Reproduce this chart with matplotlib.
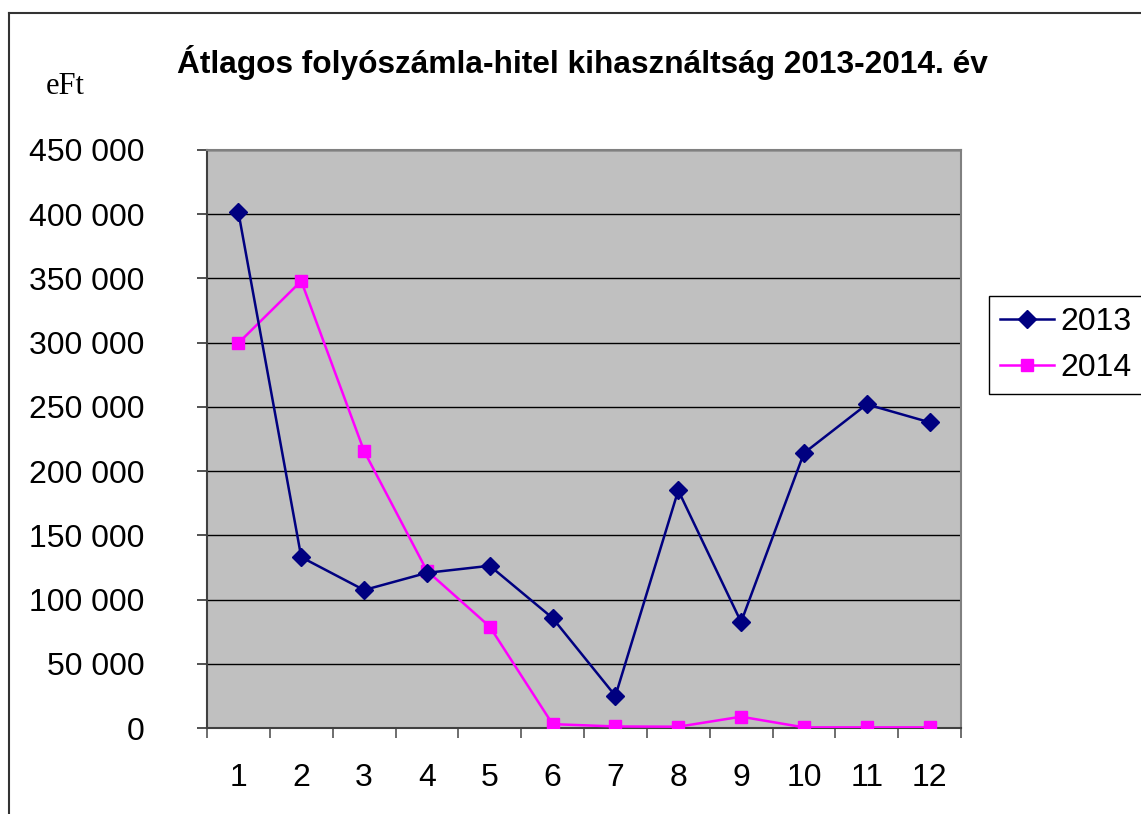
import numpy as np
import matplotlib
matplotlib.use("Agg")
import matplotlib.pyplot as plt
from matplotlib.lines import Line2D
from matplotlib.ticker import FixedLocator, FuncFormatter

plt.rcParams['font.family'] = ['Liberation Sans', 'DejaVu Sans']

# data
months = list(range(1, 13))
vals_2013 = [401500, 133000, 107400, 120800, 126300, 85600, 25000, 185000, 82500, 214000, 252000, 238000]
vals_2014 = [299700, 348000, 215600, 122400, 78900, 3000, 1200, 1000, 8800, 500, 500, 500]
yticks = list(range(0, 450001, 50000))
title = "Átlagos folyószámla-hitel kihasználtság 2013-2014. év"
unit = "eFt"

W, H = 1141, 814
fig = plt.figure(figsize=(W / 100, H / 100), dpi=100)
ax = fig.add_axes([207 / W, 1 - 728 / H, (961 - 207) / W, (728 - 150) / H])
ax.set_facecolor('#C0C0C0')

# outer chart border (only left and top visible)
fig.add_artist(Line2D([9 / W, 9 / W], [1 - 13 / H, 0], transform=fig.transFigure, color='#333333', lw=1.5))
fig.add_artist(Line2D([9 / W, 1], [1 - 13 / H, 1 - 13 / H], transform=fig.transFigure, color='#333333', lw=1.5))

ax.plot(months, vals_2013, color='#000080', marker='D', ms=9, lw=1.8, label='2013', zorder=4)
ax.plot(months, vals_2014, color='#FF00FF', marker='s', ms=8.5, lw=1.8, label='2014', zorder=3)

ax.set_xlim(0.5, 12.5)
ax.set_ylim(0, 450000)

ax.yaxis.set_major_locator(FixedLocator(yticks))
ax.yaxis.set_major_formatter(FuncFormatter(lambda v, p: f"{int(v):,}".replace(',', ' ')))
ax.grid(axis='y', color='black', lw=1, zorder=1)
ax.set_axisbelow(True)

ax.set_xticks(months)
ax.set_xticks(np.arange(0.5, 12.6, 1), minor=True)
ax.tick_params(axis='x', which='major', length=0, pad=25, labelsize=23)
ax.tick_params(axis='x', which='minor', length=7, width=1.2, color='#555555', direction='out')
ax.tick_params(axis='y', length=7, width=1.2, color='#333333', pad=38, labelsize=23, direction='out')

for s in ['top', 'right']:
    ax.spines[s].set_color('#808080')
    ax.spines[s].set_linewidth(1.5)
ax.spines['left'].set_color('#404040')
ax.spines['left'].set_linewidth(1.5)
ax.spines['bottom'].set_color('#404040')
ax.spines['bottom'].set_linewidth(1.5)

fig.text(582 / W, 1 - 62 / H, title, ha='center', va='center', fontsize=22.8, fontweight='bold')
fig.text(65 / W, 1 - 87 / H, unit, ha='center', va='center', fontsize=22, family='Liberation Serif')

leg = ax.legend(loc='upper left', bbox_to_anchor=(989 / W, 1 - 296 / H), bbox_transform=fig.transFigure,
                fontsize=23, frameon=True, fancybox=False, edgecolor='black', framealpha=1,
                handlelength=1.7, handletextpad=0.2, borderpad=0.35, labelspacing=0.5, borderaxespad=0)
leg.get_frame().set_linewidth(1)

fig.savefig('out.png', dpi=100)
